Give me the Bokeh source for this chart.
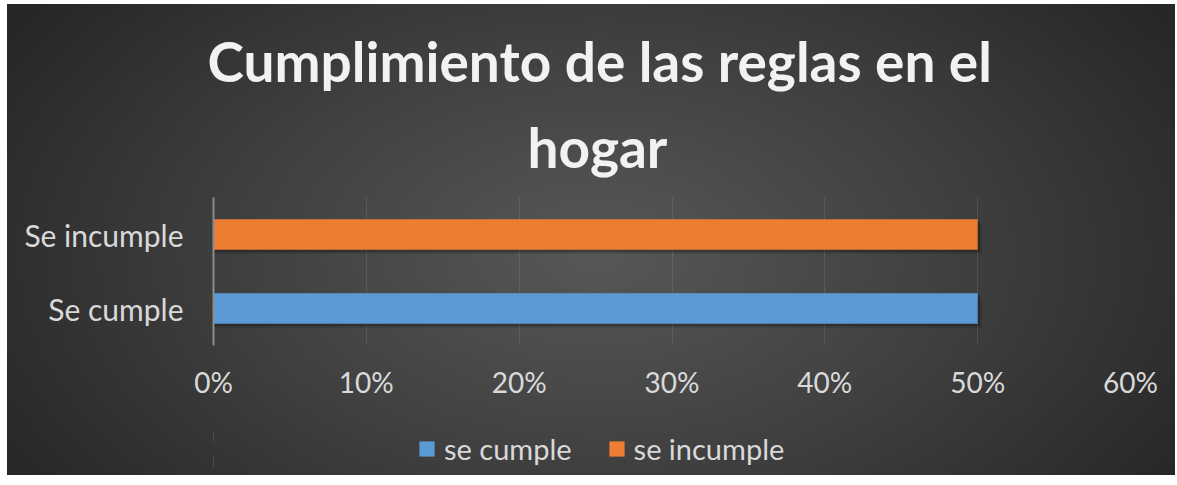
from bokeh.plotting import figure
from bokeh.layouts import column
from bokeh.models import (ColumnDataSource, FixedTicker, NumeralTickFormatter,
                          Title, Legend, LegendItem, Range1d)
from bokeh.transform import dodge
from bokeh.embed import file_html
from bokeh.resources import INLINE

# ---- data ----
categories = ["Se cumple", "Se incumple"]
values = [0.50, 0.50]
series = ["se cumple", "se incumple"]
colors = ["#5b9bd5", "#ed7d31"]
x_ticks = [0.0, 0.1, 0.2, 0.3, 0.4, 0.5, 0.6]
title_line1 = "Cumplimiento de las reglas en el"
title_line2 = "hogar"

src = ColumnDataSource(dict(cat=categories, val=values, series=series, color=colors))

FONT = "Lato"
TXT = "#d9d9d9"

p = figure(
    frame_width=917, frame_height=148,
    y_range=categories,
    x_range=Range1d(0, 0.6),
    output_backend="svg", toolbar_location=None,
    min_border_left=206, min_border_right=45,
    min_border_top=193, min_border_bottom=78,
    background_fill_alpha=0, border_fill_alpha=0,
    outline_line_color=None,
)

# titles (added inner first)
p.add_layout(Title(text=title_line2, align="left", offset=314, text_font=FONT,
                   text_font_size="55px", text_font_style="bold",
                   text_color="#f2f2f2", standoff=36), "above")
p.add_layout(Title(text=title_line1, align="left", offset=-6, text_font=FONT,
                   text_font_size="55px", text_font_style="bold",
                   text_color="#f2f2f2", standoff=0), "above")

# bar shadows
p.hbar(y=dodge("cat", -0.06, range=p.y_range), left=0,
       right=dodge("val", 0.003), height=0.41, source=src,
       fill_color="black", fill_alpha=0.12, line_color=None)
p.hbar(y=dodge("cat", -0.03, range=p.y_range), left=0,
       right=dodge("val", 0.0015), height=0.41, source=src,
       fill_color="black", fill_alpha=0.2, line_color=None)
# bars
p.hbar(y="cat", left=0, right="val", height=0.41, source=src,
       fill_color="color", line_color=None)

# axes
p.xaxis.ticker = FixedTicker(ticks=x_ticks)
p.xaxis.formatter = NumeralTickFormatter(format="0%")
p.xaxis.axis_line_color = None
p.xaxis.major_tick_line_color = None
p.xaxis.minor_tick_line_color = None
p.xaxis.major_tick_out = 0
p.xaxis.major_tick_in = 0
p.xaxis.major_label_text_font = FONT
p.xaxis.major_label_text_font_size = "28px"
p.xaxis.major_label_text_color = TXT
p.xaxis.major_label_standoff = 19

p.yaxis.axis_line_color = "#8c8c8c"
p.yaxis.axis_line_width = 2
p.yaxis.major_tick_line_color = None
p.yaxis.minor_tick_line_color = None
p.yaxis.major_label_text_font = FONT
p.yaxis.major_label_text_font_size = "30px"
p.yaxis.major_label_text_color = TXT
p.yaxis.major_label_standoff = 24

p.xgrid.grid_line_color = "white"
p.xgrid.grid_line_alpha = 0.1
p.ygrid.grid_line_color = None

# legend strip (its own plot area; bars kept outside its visible x range)
lp = figure(
    frame_width=1168, frame_height=52,
    y_range=categories, x_range=Range1d(1, 2),
    x_axis_location=None, y_axis_location=None,
    output_backend="svg", toolbar_location=None,
    min_border=0, min_border_left=0, min_border_right=0,
    min_border_top=0, min_border_bottom=0,
    background_fill_alpha=0, border_fill_alpha=0,
    outline_line_color=None,
)
lp.xgrid.visible = False
lp.ygrid.visible = False
lr = lp.hbar(y="cat", left=0, right="val", height=0.41, source=src,
             fill_color="color", line_color=None)

legend = Legend(
    items=[LegendItem(label=series[0], renderers=[lr], index=0),
           LegendItem(label=series[1], renderers=[lr], index=1)],
    orientation="horizontal", location=(410, 9),
    label_text_font=FONT, label_text_font_size="29px", label_text_color=TXT,
    glyph_width=19, glyph_height=19, spacing=35, label_standoff=8,
    border_line_color=None, background_fill_alpha=0, margin=0, padding=0,
)
lp.add_layout(legend, "center")

layout = column(
    p, lp, spacing=0,
    styles={"background": "radial-gradient(ellipse 700px 420px at 590px 250px, #575757 0%, #404040 50%, #262626 100%)",
            "margin-left": "7px", "margin-top": "4px"},
)

open("out.html", "w").write(file_html(layout, INLINE))
